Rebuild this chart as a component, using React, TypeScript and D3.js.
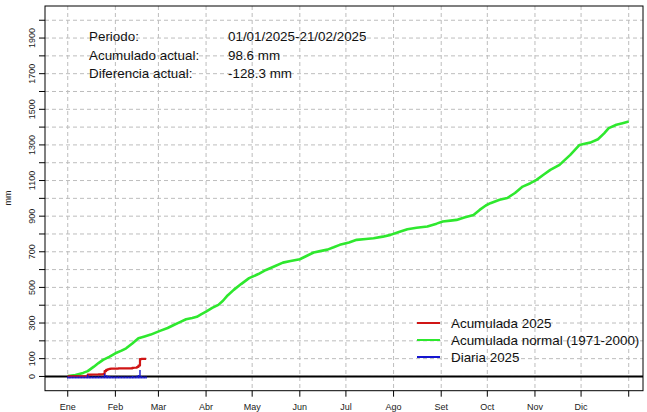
import React from "react";
import * as d3 from "d3";

const monthLabels = ["Ene", "Feb", "Mar", "Abr", "May", "Jun", "Jul", "Ago", "Set", "Oct", "Nov", "Dic", ""];
const monthStartDays = [0, 31, 59, 90, 120, 151, 181, 212, 243, 273, 304, 334, 365];

const yTickValues = d3.range(0, 2001, 100);
const yLabelValues = [0, 100, 300, 500, 700, 900, 1100, 1300, 1500, 1700, 1900];

const normalDays = [0, 5, 10, 13, 17, 20, 23, 27, 31, 35, 38, 42, 46, 50, 54, 60, 65, 69, 73, 77, 81, 84, 87, 90, 94, 98, 101, 104, 108, 113, 118, 124, 129, 135, 140, 145, 151, 155, 160, 165, 169, 173, 177, 183, 188, 194, 199, 205, 210, 215, 221, 227, 234, 240, 244, 249, 253, 258, 264, 268, 272, 275, 281, 286, 291, 296, 301, 305, 310, 314, 320, 324, 327, 333, 337, 340, 345, 349, 352, 357, 361, 365];
const normalValues = [3, 8, 20, 30, 55, 75, 93, 110, 130, 145, 158, 185, 215, 225, 235, 256, 272, 289, 305, 321, 328, 335, 350, 364, 385, 402, 425, 455, 486, 520, 552, 575, 598, 620, 639, 648, 658, 675, 696, 705, 712, 725, 739, 752, 767, 772, 776, 785, 795, 810, 827, 835, 842, 858, 870, 875, 879, 893, 907, 935, 960, 973, 992, 1002, 1030, 1066, 1085, 1104, 1135, 1160, 1188, 1220, 1244, 1300, 1308, 1313, 1332, 1365, 1394, 1413, 1422, 1431];

// 2025 daily values, day 0 = 1 Jan .. day 51 = 21 Feb
const daily2025 = [0, 0, 0, 0, 0, 0, 0, 0, 0, 0, 0, 0, 0, 10, 0.5, 0, 0.5, 0, 0, 0, 1, 0, 0.5, 1, 16, 7, 4, 2, 1, 0.5, 0, 0.5, 0, 0.5, 0, 0, 0, 0, 0, 0, 0, 0, 3, 1, 0, 4, 8, 36, 1.6, 0, 0, 0];
const accum2025 = [0, 0, 0, 0, 0, 0, 0, 0, 0, 0, 0, 0, 0, 10, 10.5, 10.5, 11, 11, 11, 11, 12, 12, 12.5, 13.5, 29.5, 36.5, 40.5, 42.5, 43.5, 44, 44, 44.5, 44.5, 45, 45, 45, 45, 45, 45, 45, 45, 45, 48, 49, 49, 53, 61, 97, 98.6, 98.6, 98.6, 98.6];

const infoLabels = ["Periodo:", "Acumulado actual:", "Diferencia actual:"];
const infoValues = ["01/01/2025-21/02/2025", "98.6 mm", "-128.3 mm"];

const legendLabels = ["Acumulada 2025", "Acumulada normal (1971-2000)", "Diaria 2025"];
const legendColors = ["#d01515", "#2ee82e", "#1515d0"];

const W = 647, H = 412;
const L = 45, R = 643, T = 6, B = 390.7;

export default function App() {
  const x = d3.scaleLinear().domain([-14.8, 374.3]).range([L, R]);
  const y = d3.scaleLinear().domain([-80, 2080]).range([B, T]);
  const font = "Liberation Sans, Arial, sans-serif";

  const normalLine = d3.line<number>()
    .x((_, i) => x(normalDays[i]))
    .y((d) => y(d))
    .curve(d3.curveLinear)(normalValues) as string;

  const accumLine = d3.line<number>()
    .x((_, i) => x(i))
    .y((d) => y(d))
    .curve(d3.curveStepAfter)(accum2025) as string;

  return (
    <svg width={W} height={H} style={{ position: "absolute", left: 0, top: 0, background: "#fff" }} fontFamily={font}>
      <rect x={0} y={0} width={W} height={H} fill="#fff" />
      {/* grid */}
      {yTickValues.map((v) => (
        <line key={"gy" + v} x1={L} x2={R} y1={y(v)} y2={y(v)} stroke="#bdbdbd" strokeWidth={1} strokeDasharray="4,3" />
      ))}
      {monthStartDays.map((d) => (
        <line key={"gx" + d} x1={x(d)} x2={x(d)} y1={T} y2={B} stroke="#bdbdbd" strokeWidth={1} strokeDasharray="4,3" />
      ))}
      {/* info text */}
      {infoLabels.map((t, i) => (
        <text key={"il" + i} x={89} y={41 + i * 18.5} fontSize={13.4} fill="#111">{t}</text>
      ))}
      {infoValues.map((t, i) => (
        <text key={"iv" + i} x={228} y={41 + i * 18.5} fontSize={13.4} fill="#111">{t}</text>
      ))}
      {/* series */}
      <path d={normalLine} fill="none" stroke={legendColors[1]} strokeWidth={2.6} strokeLinejoin="round" />
      <line x1={L} x2={R} y1={y(0)} y2={y(0)} stroke="#000" strokeWidth={2} />
      <path d={accumLine} fill="none" stroke={legendColors[0]} strokeWidth={2.2} strokeLinejoin="round" />
      {daily2025.map((v, i) => (
        <line key={"b" + i} x1={x(i)} x2={x(i)} y1={y(0) + 2} y2={Math.min(y(v), y(0) + 0.5)} stroke={legendColors[2]} strokeWidth={1.4} />
      ))}
      {/* box */}
      <rect x={L} y={T} width={R - L} height={B - T} fill="none" stroke="#000" strokeWidth={1} />
      {/* y axis */}
      {yTickValues.map((v) => (
        <line key={"ty" + v} x1={L - 6} x2={L} y1={y(v)} y2={y(v)} stroke="#000" strokeWidth={1} />
      ))}
      {yLabelValues.map((v) => (
        <text key={"ly" + v} transform={`translate(${35},${y(v)}) rotate(-90)`} textAnchor="middle" fontSize={9} fill="#222">{v}</text>
      ))}
      <text transform={`translate(${11},${198}) rotate(-90)`} textAnchor="middle" fontSize={9} fill="#222">mm</text>
      {/* x axis */}
      {monthStartDays.map((d, i) => (
        <g key={"tx" + d}>
          <line x1={x(d)} x2={x(d)} y1={B} y2={B + 6} stroke="#000" strokeWidth={1} />
          <text x={x(d)} y={410} textAnchor="middle" fontSize={9} fill="#222">{monthLabels[i]}</text>
        </g>
      ))}
      {/* legend */}
      {legendLabels.map((t, i) => (
        <g key={"lg" + i}>
          <line x1={417} x2={440} y1={323 + i * 17} y2={323 + i * 17} stroke={legendColors[i]} strokeWidth={2} />
          <text x={451} y={323 + i * 17 + 4.7} fontSize={13.4} fill="#111">{t}</text>
        </g>
      ))}
    </svg>
  );
}
